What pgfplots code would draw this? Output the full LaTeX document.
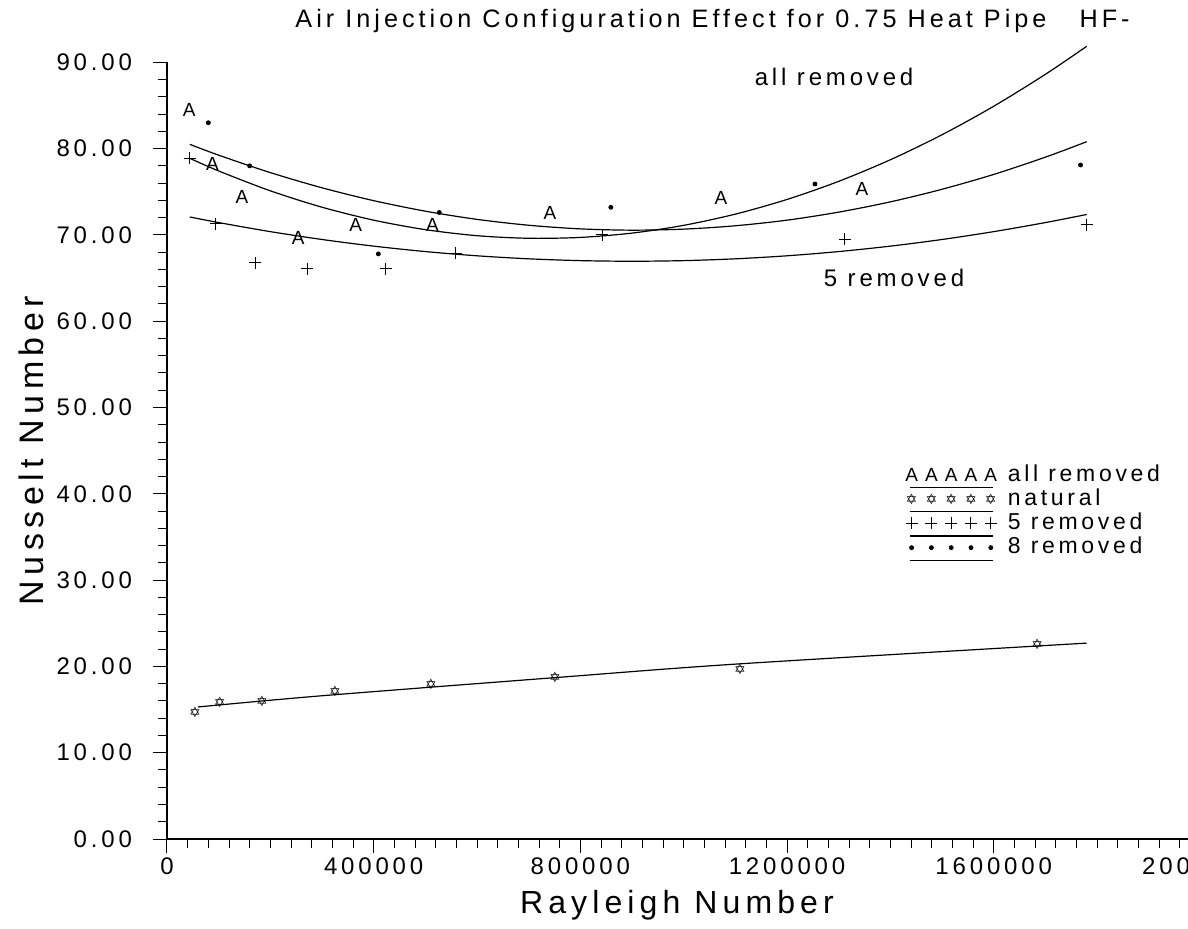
\documentclass[border=0pt]{standalone}
\usepackage{fontspec}
\setmainfont{Liberation Sans}[LetterSpace=16]
\newfontfamily\symfont{DejaVu Sans}
\newfontfamily\markfont{Liberation Sans}
\usepackage{pgfplots}
\pgfplotsset{compat=1.18}
\pgfplotsset{
  mylegend/.style={legend image code/.code={%
    \draw[##1] plot[only marks] coordinates {(0pt,0pt) (9.9pt,0pt) (19.8pt,0pt) (29.7pt,0pt) (39.6pt,0pt)};
    \draw[black, line width=0.6pt] (-1pt,-6.3pt) -- (40.6pt,-6.3pt);
    \node[inner sep=0pt, minimum size=0pt, draw=none, fill=none] at (48pt,0pt) {};}}
}
\begin{document}
\begin{tikzpicture}
\begin{axis}[
  at={(0,0)}, anchor=south west,
  scale only axis, width=516.7pt, height=388.35pt,
  xmin=0, xmax=2000000, ymin=0, ymax=90,
  axis lines*=left,
  clip=false,
  xtick={0,400000,800000,1200000,1600000,2000000},
  xticklabels={0,400000,800000,1200000,1600000,2000000},
  scaled x ticks=false,
  minor x tick num=9,
  ytick={0,10,20,30,40,50,60,70,80,90},
  yticklabels={0.00,10.00,20.00,30.00,40.00,50.00,60.00,70.00,80.00,90.00},
  minor y tick num=4,
  tick align=outside, major tick length=7pt, minor tick length=4.5pt,
  tick style={black, line width=0.5pt},
  axis line style={black, line width=0.6pt},
  ticklabel style={font=\fontsize{12}{14}\selectfont},
  yticklabel style={xshift=-7pt},
  xticklabel style={yshift=1pt},
  xlabel={Rayleigh Number},
  ylabel={Nusselt Number},
  xlabel style={font=\fontsize{16}{18}\selectfont, at={(axis description cs:0.4935,-0.085)}, anchor=center},
  ylabel style={font=\fontsize{17}{19}\selectfont, at={(axis description cs:-0.1316,0.5)}, anchor=center},
  legend style={at={(axis description cs:0.714,0.482)}, anchor=north west,
    draw=none, fill=none, inner sep=0pt, row sep=0.5pt,
    font=\fontsize{11.5}{13}\selectfont,
    nodes={inner sep=0pt, text height=8pt, text depth=2pt}},
  legend cell align=left,
]
% fitted curves
\addplot[black, line width=0.6pt, smooth, forget plot] coordinates {
(44000,78.88) (100000,77.41) (200000,75.11) (300000,73.21) (400000,71.71)
(500000,70.61) (600000,69.91) (700000,69.61) (800000,69.71) (900000,70.21)
(1000000,71.11) (1100000,72.41) (1200000,74.11) (1300000,76.21) (1400000,78.71)
(1500000,81.61) (1600000,84.91) (1700000,88.61) (1780000,91.86)};
\addplot[black, line width=0.6pt, smooth, forget plot] coordinates {
(44000,80.50) (100000,79.24) (200000,77.22) (300000,75.46) (400000,73.97)
(500000,72.75) (600000,71.80) (700000,71.12) (800000,70.70) (900000,70.55)
(1000000,70.67) (1100000,71.06) (1200000,71.71) (1300000,72.64) (1400000,73.83)
(1500000,75.29) (1600000,77.01) (1700000,79.01) (1780000,80.80)};
\addplot[black, line width=0.6pt, smooth, forget plot] coordinates {
(44000,72.08) (100000,71.43) (200000,70.38) (300000,69.47) (400000,68.70)
(500000,68.07) (600000,67.58) (700000,67.23) (800000,67.02) (900000,66.95)
(1000000,67.02) (1100000,67.23) (1200000,67.58) (1300000,68.07) (1400000,68.70)
(1500000,69.47) (1600000,70.38) (1700000,71.43) (1780000,72.37)};
\addplot[black, line width=0.6pt, smooth, forget plot] coordinates {
(60000,15.3) (300000,16.6) (751000,18.7) (1109000,20.3) (1780000,22.7)};
% data points
\addplot[only marks, mark=text, text mark={\markfont\fontsize{9.5}{10}\selectfont A}, mylegend] coordinates {
(43000,84.5) (88000,78.2) (145000,74.4) (254000,69.6) (365000,71.1)
(514000,71.1) (741000,72.5) (1072000,74.3) (1345000,75.3)};
\addlegendentry{all removed}
\addplot[only marks, mark=text, text mark={\symfont\fontsize{7}{8}\selectfont ✡}, mylegend] coordinates {
(54000,14.7) (102000,15.8) (184000,15.9) (325000,17.1) (511000,17.9)
(751000,18.7) (1109000,19.7) (1684000,22.6)};
\addlegendentry{natural}
\addplot[only marks, mark=+, mark size=3pt, mark options={line width=0.5pt}, mylegend] coordinates {
(44000,78.9) (94000,71.3) (171000,66.8) (271500,66.1) (423000,66.1)
(559000,67.9) (842000,70.0) (1312000,69.5) (1780000,71.2)};
\addlegendentry{5 removed}
\addplot[only marks, mark=*, mark size=1pt, mylegend] coordinates {
(80000,83.0) (160000,78.0) (409000,67.8) (527000,72.6) (859000,73.2)
(1254000,75.9) (1768000,78.1)};
\addlegendentry{8 removed}
% annotations
\node[font=\fontsize{12}{14}\selectfont] at (axis cs:1291000,88.3) {all removed};
\node[font=\fontsize{12}{14}\selectfont] at (axis cs:1407000,65.0) {5 removed};
\node[font=\fontsize{12.6}{14}\selectfont, anchor=base west, inner sep=0pt] at (axis description cs:0.1239,1.0454) {Air Injection Configuration Effect for 0.75 Heat Pipe \ \ HF-};
\end{axis}
\pgfresetboundingbox
\path (-83.5pt,-44.5pt) rectangle (510.5pt,419.5pt);
\end{tikzpicture}
\end{document}
